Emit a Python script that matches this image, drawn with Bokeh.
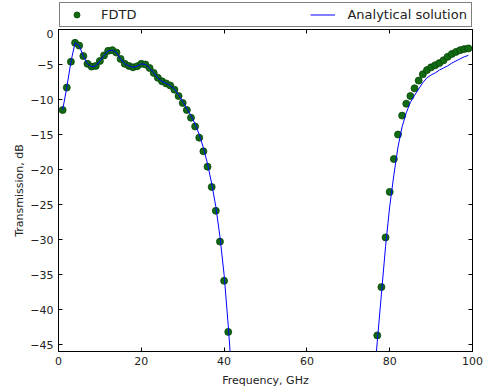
from bokeh.plotting import figure
from bokeh.models import (ColumnDataSource, LinearAxis, FixedTicker, Legend,
                          LegendItem, Range1d)
from bokeh.layouts import column
from bokeh.embed import file_html
from bokeh.resources import INLINE

# ---------------- data ----------------
fdtd_freq = [1, 2, 3, 4, 5, 6, 7, 8, 9, 10,
             11, 12, 13, 14, 15, 16, 17, 18, 19, 20,
             21, 22, 23, 24, 25, 26, 27, 28, 29, 30,
             31, 32, 33, 34, 35, 36, 37, 38, 39, 40, 41,
             77, 78, 79, 80, 81, 82, 83, 84, 85, 86, 87, 88,
             89, 90, 91, 92, 93, 94, 95, 96, 97, 98, 99]
fdtd_db = [-11.5, -8.3, -4.6, -1.9, -2.3, -3.8, -4.9, -5.3, -5.2, -4.5,
           -3.7, -3.05, -2.95, -3.3, -4.2, -4.9, -5.2, -5.4, -5.25, -4.9,
           -5.0, -5.5, -6.2, -6.9, -7.4, -7.7, -8.0, -8.6, -9.5, -10.5,
           -11.5, -12.6, -13.85, -15.45, -17.4, -19.6, -22.5, -25.9, -30.3, -35.9, -43.2,
           -43.7, -36.8, -29.7, -23.2, -18.5, -15.0, -12.3, -10.6, -9.5, -8.4, -7.3, -6.4,
           -5.8, -5.4, -5.1, -4.8, -4.4, -3.9, -3.5, -3.2, -2.95, -2.8, -2.7]

ana_freq_low = [1, 2, 3, 4, 5, 6, 7, 8, 9, 10,
                11, 12, 13, 14, 15, 16, 17, 18, 19, 20,
                21, 22, 23, 24, 25, 26, 27, 28, 29, 30,
                31, 32, 33, 34, 35, 36, 37, 38, 39, 40, 41, 42]
ana_db_low = [-11.5, -8.3, -4.6, -1.9, -2.3, -3.8, -4.9, -5.3, -5.2, -4.5,
              -3.7, -3.05, -2.95, -3.3, -4.2, -4.9, -5.2, -5.4, -5.25, -4.9,
              -5.0, -5.5, -6.2, -6.9, -7.4, -7.7, -8.0, -8.5, -9.3, -10.3,
              -11.3, -12.3, -13.5, -15.0, -16.9, -19.2, -22.0, -25.3, -29.6, -35.0, -42.3, -50.5]
ana_freq_high = [76, 77, 78, 79, 80, 81, 82, 83, 84, 85, 86, 87,
                 88, 89, 90, 91, 92, 93, 94, 95, 96, 97, 98, 99]
ana_db_high = [-51.5, -44.6, -37.8, -31.0, -25.3, -20.8, -16.8, -13.9, -11.9, -10.4, -9.4, -8.5,
               -7.6, -6.9, -6.5, -6.2, -5.8, -5.5, -5.2, -4.8, -4.5, -4.2, -3.9, -3.7]

series_names = ["FDTD", "Analytical solution"]

x_ticks = [0, 20, 40, 60, 80, 100]
y_ticks = [0, -5, -10, -15, -20, -25, -30, -35, -40, -45]
y_tick_labels = {t: (str(t) if t >= 0 else "\u2212" + str(-t)) for t in y_ticks}

FONT = "DejaVu Sans"
DOT_FILL = "#126b12"
DOT_LINE = "#064506"
LINE_COLOR = "blue"

src_f = ColumnDataSource(dict(x=fdtd_freq, y=fdtd_db))
src_lo = ColumnDataSource(dict(x=ana_freq_low, y=ana_db_low))
src_hi = ColumnDataSource(dict(x=ana_freq_high, y=ana_db_high))

# ---------------- main plot ----------------
p = figure(output_backend="svg", toolbar_location=None,
           frame_width=414, frame_height=322,
           min_border_left=58, min_border_right=17,
           min_border_top=0, min_border_bottom=36,
           x_range=Range1d(0, 100), y_range=Range1d(-46, 0),
           x_axis_label="Frequency, GHz", y_axis_label="Transmission, dB")
p.background_fill_color = "white"
p.border_fill_color = "white"
p.outline_line_color = "black"
p.outline_line_width = 1
p.xgrid.visible = False
p.ygrid.visible = False

p.scatter("x", "y", source=src_f, size=7, fill_color=DOT_FILL,
          line_color=DOT_LINE, line_width=0.8)
p.line("x", "y", source=src_lo, line_color=LINE_COLOR, line_width=1)
p.line("x", "y", source=src_hi, line_color=LINE_COLOR, line_width=1)

def style_axis(ax):
    ax.axis_line_color = "black"
    ax.major_tick_in = 4
    ax.major_tick_out = 0
    ax.minor_tick_in = 0
    ax.minor_tick_out = 0
    ax.major_tick_line_color = "black"
    ax.major_label_text_font = FONT
    ax.major_label_text_font_size = "11px"
    ax.major_label_text_color = "#222222"
    ax.axis_label_text_font = FONT
    ax.axis_label_text_font_size = "11px"
    ax.axis_label_text_font_style = "normal"
    ax.axis_label_text_color = "#222222"

xa = p.xaxis[0]
ya = p.yaxis[0]
xa.ticker = FixedTicker(ticks=x_ticks)
ya.ticker = FixedTicker(ticks=y_ticks)
ya.major_label_overrides = y_tick_labels
style_axis(xa)
style_axis(ya)
xa.major_label_standoff = 5
xa.axis_label_standoff = 6
ya.major_label_standoff = 5
ya.axis_label_standoff = 1

ra = LinearAxis(ticker=FixedTicker(ticks=y_ticks), major_label_standoff=0,
                major_label_overrides={t: "" for t in y_ticks})
ta = LinearAxis(ticker=FixedTicker(ticks=x_ticks), major_label_standoff=0,
                major_label_overrides={t: "" for t in x_ticks})
style_axis(ra)
style_axis(ta)
p.add_layout(ra, "right")
p.add_layout(ta, "above")

# ---------------- legend strip ----------------
# the strip's ranges lie outside the data, so its renderers only feed the legend
lg = figure(output_backend="svg", toolbar_location=None,
            frame_width=416, frame_height=26,
            min_border_left=57, min_border_right=16,
            min_border_top=1, min_border_bottom=2,
            x_range=Range1d(0, 1), y_range=Range1d(0, 1),
            x_axis_type=None, y_axis_type=None)
lg.outline_line_color = None
lg.xgrid.visible = False
lg.ygrid.visible = False
lg.background_fill_color = "white"
lg.border_fill_color = "white"

lr_dots = lg.scatter("x", "y", source=src_f, size=7, fill_color=DOT_FILL,
                     line_color=DOT_LINE, line_width=0.8)
lr_line = lg.line("x", "y", source=src_lo, line_color=LINE_COLOR, line_width=1)

legend = Legend(items=[LegendItem(label=series_names[0], renderers=[lr_dots]),
                       LegendItem(label=series_names[1], renderers=[lr_line])],
                orientation="horizontal",
                location="top_left",
                glyph_width=25, glyph_height=15, label_height=15,
                label_standoff=12, spacing=174, padding=4, margin=1,
                label_text_font=FONT, label_text_font_size="13px",
                label_text_color="#222222",
                border_line_color="black", border_line_width=1,
                background_fill_color="white", background_fill_alpha=1)
lg.add_layout(legend, "center")

layout = column(lg, p, spacing=0)
open("out.html", "w").write(file_html(layout, INLINE))
